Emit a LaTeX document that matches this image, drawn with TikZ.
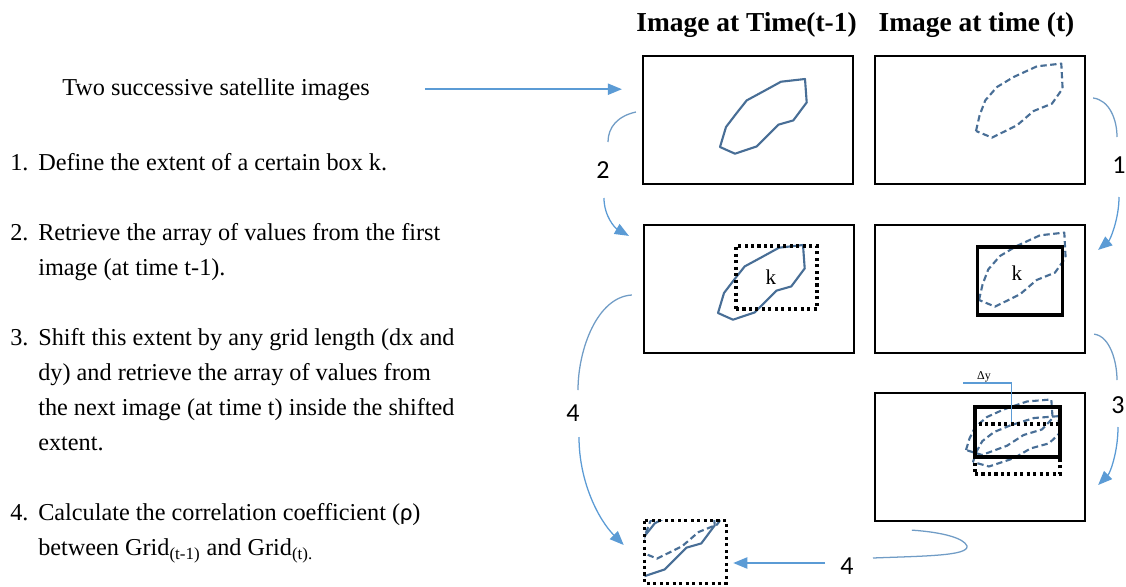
\documentclass[tikz,border=0pt]{standalone}
\usepackage{fontspec}
\setmainfont{Liberation Serif}
\newfontfamily\numfont{Carlito}
\usetikzlibrary{arrows.meta}
\definecolor{shapeblue}{RGB}{72,110,150}
\definecolor{arrowblue}{RGB}{91,155,213}
\definecolor{arcblue}{RGB}{112,156,198}
\newlength\px
\setlength\px{0.25mm}

\tikzset{
  imgbox/.style={draw=black,line width=1.6pt,minimum width=210\px,minimum height=128\px,inner sep=0pt},
  kbox/.style={draw=black,line width=2.4pt,inner sep=0pt},
  kdots/.style={draw=black,line width=2.2pt,dash pattern=on 2.2pt off 2.4pt,inner sep=0pt},
  prevline/.style={draw=shapeblue,line width=1.5pt,line join=round},
  currline/.style={draw=shapeblue,line width=1.5pt,line join=round,dash pattern=on 4.5pt off 2.5pt},
  pics/prevblob/.style={code={
    \draw[prevline] (0,0) -- (6,-20) -- (16.7,-34) -- (26.7,-46.6) -- (43.3,-55.6) -- (61,-65.3)
      -- (85,-68) -- (86.7,-44.6) -- (73.3,-26.6) -- (58.3,-22.3) -- (36.7,-0.6) -- (15,6.7) -- cycle;}},
  pics/currblob/.style={code={
    \draw[currline] (0,0) -- (3.6,-15.7) -- (9.3,-30.7) -- (21,-44) -- (37.6,-54) -- (61,-64.7)
      -- (85.3,-67.4) -- (86.6,-42.4) -- (76,-27.4) -- (57.6,-20) -- (41,-5.7) -- (16,6.6) -- cycle;}},
  bodytext/.style={anchor=north west,inner sep=0pt,align=left,font=\fontsize{17.25}{24.9}\selectfont},
  itemnum/.style={anchor=base west,inner sep=0pt,font=\fontsize{17.25}{24.9}\selectfont},
  header/.style={anchor=base,inner sep=0pt,font=\bfseries\fontsize{19.5}{22}\selectfont},
  stepnum/.style={inner sep=0pt,font=\numfont\fontsize{18.5}{20}\selectfont},
  klabel/.style={inner sep=0pt,font=\fontsize{15}{17}\selectfont},
  flowarrow/.style={draw=arrowblue,line width=1.1pt,-{Triangle[length=10pt,width=8pt]}},
  bendline/.style={draw=arcblue,line width=0.9pt},
  bendarrow/.style={bendline,-{Triangle[length=10pt,width=8pt]},arrowblue},
  dyline/.style={draw=arrowblue,line width=0.8pt},
}

\begin{document}
\begin{tikzpicture}[x=0.25mm,y=-0.25mm]

    \useasboundingbox (0,0) rectangle (1126,586);

    % 底色

    \fill[white] (0,0) rectangle (1126,586);

    % 左侧说明文字

    \node[itemnum] (intro) at (62,95) {Two successive satellite images};

    \node[itemnum] (s1num) at (10,170) {1.};
    \node[bodytext] (s1) at (38,153.5) {Define the extent of a certain box k.};

    \node[itemnum] (s2num) at (10,240) {2.};
    \node[bodytext] (s2) at (38,223.5) {Retrieve the array of values from the first\\image (at time t-1).};

    \node[itemnum] (s3num) at (10,345) {3.};
    \node[bodytext] (s3) at (38,328.5) {Shift this extent by any grid length (dx and\\dy) and retrieve the array of values from\\the next image (at time t) inside the shifted\\extent.};

    \node[itemnum] (s4num) at (10,520) {4.};
    \node[bodytext] (s4) at (38,503.5) {Calculate the correlation coefficient ({\numfont ρ})\\between Grid\textsubscript{(t-1)} and Grid\textsubscript{(t).}};

    % 两列标题

    \node[header] (h1) at (746.5,31) {Image at Time(t-1)};
    \node[header] (h2) at (976.5,31) {Image at time (t)};

    % 图像框

    \node[imgbox] (b1) at (748,120) {};
    \node[imgbox] (b2) at (980,120) {};
    \node[imgbox] (b3) at (749,289) {};
    \node[imgbox] (b4) at (980,289) {};
    \node[imgbox] (b5) at (980,457) {};

    % 云团轮廓

    \pic at (720,147) {prevblob};
    \pic at (976,131) {currblob};
    \pic at (718,313) {prevblob};
    \pic at (979,300) {currblob};
    \pic[yscale=0.75] at (966,450) {currblob};
    \pic[yscale=0.68] at (973,462) {currblob};

    % 方框 k 及平移

    \node[kdots,minimum width=81\px,minimum height=63\px] (d3) at (776.5,277.5) {};
    \node[klabel] (k3) at (771,277) {k};
    \node[kbox,minimum width=85\px,minimum height=68\px] (t4) at (1020,281) {};
    \node[klabel] (k4) at (1017,273) {k};
    \node[kbox,minimum width=85\px,minimum height=50\px] (t5) at (1017.5,432) {};
    \node[kdots,minimum width=85\px,minimum height=50\px] (d5) at (1017.5,449) {};

    \node[inner sep=0pt,font=\fontsize{8.5}{9}\selectfont] (dylab) at (984,377) {Δy};
    \coordinate (dystart) at (963,383);
    \draw[dyline] (dystart) -| ([shift={(-6,0)}]d5.north);

    % 网格小图

    \node[inner sep=0pt,minimum width=81\px,minimum height=62\px] (g) at (685.5,552) {};
    \begin{scope}
      \clip (g.north west) rectangle (g.south east);
      \pic at (628,570) {prevblob};
      \pic at (641,552) {currblob};
    \end{scope}
    \draw[kdots] (g.north west) rectangle (g.south east);

    % 箭头与步骤编号

    \draw[flowarrow,shorten <=55\px,shorten >=20\px] (intro.east) -- (intro.east -| b1.west);

    \node[stepnum] (n2) at (603,170) {2};
    \draw[bendline] ([shift={(-6,-8)}]b1.west) .. controls +(-18,4) and +(0,-15) .. ([shift={(5,-28)}]n2.center);
    \draw[bendarrow] ([shift={(1,28)}]n2.center) .. controls +(0,18) and +(-14,-8) .. ([shift={(-14,12)}]b3.north west);

    \node[stepnum] (n1) at (1119,165) {1};
    \draw[bendline] ([shift={(7,-22)}]b2.east) .. controls +(16,2) and +(0,-18) .. ([shift={(-2,-28)}]n1.center);
    \draw[bendarrow] ([shift={(0,32)}]n1.center) .. controls +(0,22) and +(12,-10) .. ([shift={(12,26)}]b4.north east);

    \node[stepnum] (n3) at (1118,405) {3};
    \draw[bendline] ([shift={(8,-20)}]b4.south east) .. controls +(16,2) and +(0,-18) .. ([shift={(-1,-25)}]n3.center);
    \draw[bendarrow] ([shift={(0,22)}]n3.center) .. controls +(0,25) and +(12,-12) .. ([shift={(12,28)}]b5.east);

    \node[stepnum] (n4) at (573,413) {4};
    \draw[bendline] ([shift={(-11,6)}]b3.west) .. controls +(-35,2) and +(0,-40) .. ([shift={(5,-23)}]n4.center);
    \draw[bendarrow] ([shift={(6,24)}]n4.center) .. controls +(0,45) and +(-25,-25) .. ([shift={(-21,-7)}]g.west);

    \node[stepnum] (n5) at (847,566) {4};
    \coordinate (hook) at (967,546);
    \draw[bendline] ([shift={(26,-8)}]n5.center) .. controls +(50,-2) and +(2,10) .. (hook)
      .. controls +(-3,-8) and +(30,2) .. ([shift={(38,8)}]b5.south west);
    \draw[flowarrow] ([shift={(-22,-3)}]n5.center) -- ([shift={(7,11)}]g.east);

  \end{tikzpicture}
\end{document}
